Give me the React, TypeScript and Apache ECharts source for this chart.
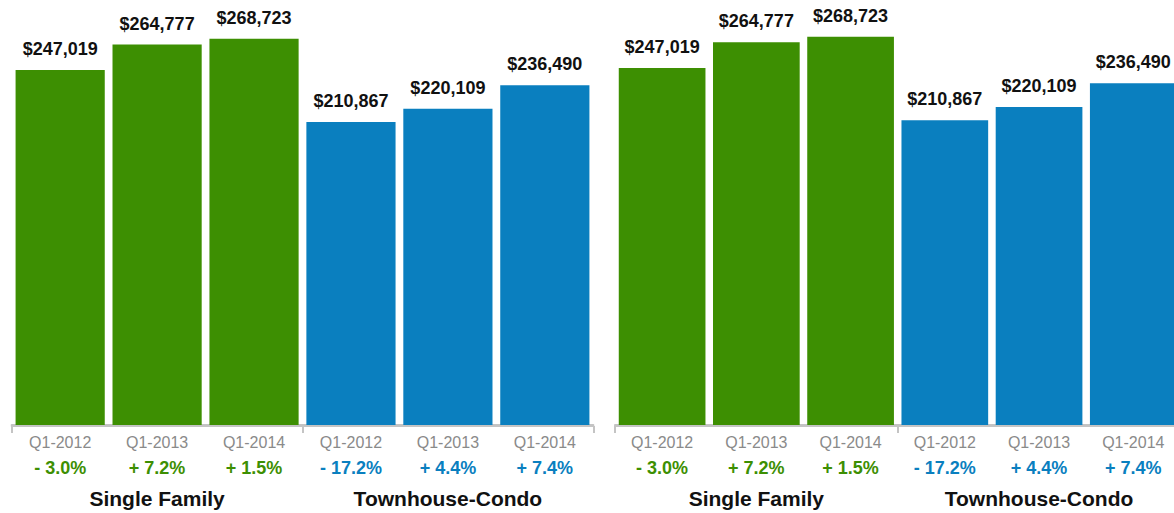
import React, { useEffect, useRef } from "react";
import * as echarts from "echarts";

const quarters = ["Q1-2012", "Q1-2013", "Q1-2014", "Q1-2012", "Q1-2013", "Q1-2014"];
const groups = ["Single Family", "Townhouse-Condo"];
const prices = [247019, 264777, 268723, 210867, 220109, 236490];
const changes = ["- 3.0%", "+ 7.2%", "+ 1.5%", "- 17.2%", "+ 4.4%", "+ 7.4%"];

const GREEN = "#3d8f02";
const BLUE = "#0a7fbf";
const AXIS_GRAY = "#c4c4c4";
const FONT = "'Liberation Sans', Arial, Helvetica, sans-serif";

const panels = [
  { left: 11.7, width: 581.6, top: 8.3, height: 416.7 },
  { left: 615, width: 565.4, top: 5.9, height: 419.1 },
];

export default function App() {
  const ref = useRef<HTMLDivElement>(null);
  useEffect(() => {
    if (!ref.current) return;
    const chart = echarts.init(ref.current, undefined, { renderer: "svg" });
    const grid: any[] = [];
    const xAxis: any[] = [];
    const yAxis: any[] = [];
    const series: any[] = [];
    panels.forEach((p, gi) => {
      grid.push({
        left: p.left,
        width: p.width,
        top: p.top,
        height: p.height,
        containLabel: false,
        outerBoundsMode: "none",
      });
      xAxis.push({
        type: "category",
        gridIndex: gi,
        data: quarters,
        position: "bottom",
        offset: 1,
        axisLine: { show: true, lineStyle: { color: AXIS_GRAY, width: 2 } },
        axisTick: { show: false },
        axisLabel: {
          interval: 0,
          margin: 3,
          hideOverlap: false,
          fontFamily: FONT,
          formatter: (v: string, i: number) =>
            `{q|${v}}\n{${i < 3 ? "g" : "b"}|${changes[i]}}`,
          rich: {
            q: { fontSize: 16, color: "#8a8a8a", lineHeight: 26, fontFamily: FONT },
            g: { fontSize: 18, fontWeight: "bold", color: GREEN, lineHeight: 26, fontFamily: FONT },
            b: { fontSize: 18, fontWeight: "bold", color: BLUE, lineHeight: 26, fontFamily: FONT },
          },
        },
      });
      xAxis.push({
        type: "category",
        gridIndex: gi,
        data: groups,
        position: "bottom",
        offset: 1,
        axisLine: { show: true, lineStyle: { color: AXIS_GRAY, width: 2 } },
        axisTick: { show: true, interval: 0, length: 7, lineStyle: { color: AXIS_GRAY, width: 2 } },
        axisLabel: {
          interval: 0,
          margin: 62,
          fontSize: 21,
          lineHeight: 21,
          fontWeight: "bold",
          color: "#111",
          fontFamily: FONT,
        },
      });
      yAxis.push({ type: "value", gridIndex: gi, min: 0, max: 290000, show: false, splitLine: { show: false } });
      series.push({
        type: "bar",
        xAxisIndex: gi * 2,
        yAxisIndex: gi,
        data: prices,
        barCategoryGap: "8%",
        itemStyle: { color: (pr: any) => (pr.dataIndex < 3 ? GREEN : BLUE) },
        label: {
          show: true,
          position: "top",
          distance: 12,
          fontSize: 18,
          fontWeight: "bold",
          color: "#111",
          fontFamily: FONT,
          formatter: (pr: any) => "$" + Number(pr.value).toLocaleString("en-US"),
        },
      });
    });
    chart.setOption({ animation: false, grid, xAxis, yAxis, series });
    return () => chart.dispose();
  }, []);
  return (
    <div
      ref={ref}
      style={{ position: "absolute", left: 0, top: 0, width: 1174, height: 513, background: "#fff" }}
    />
  );
}
